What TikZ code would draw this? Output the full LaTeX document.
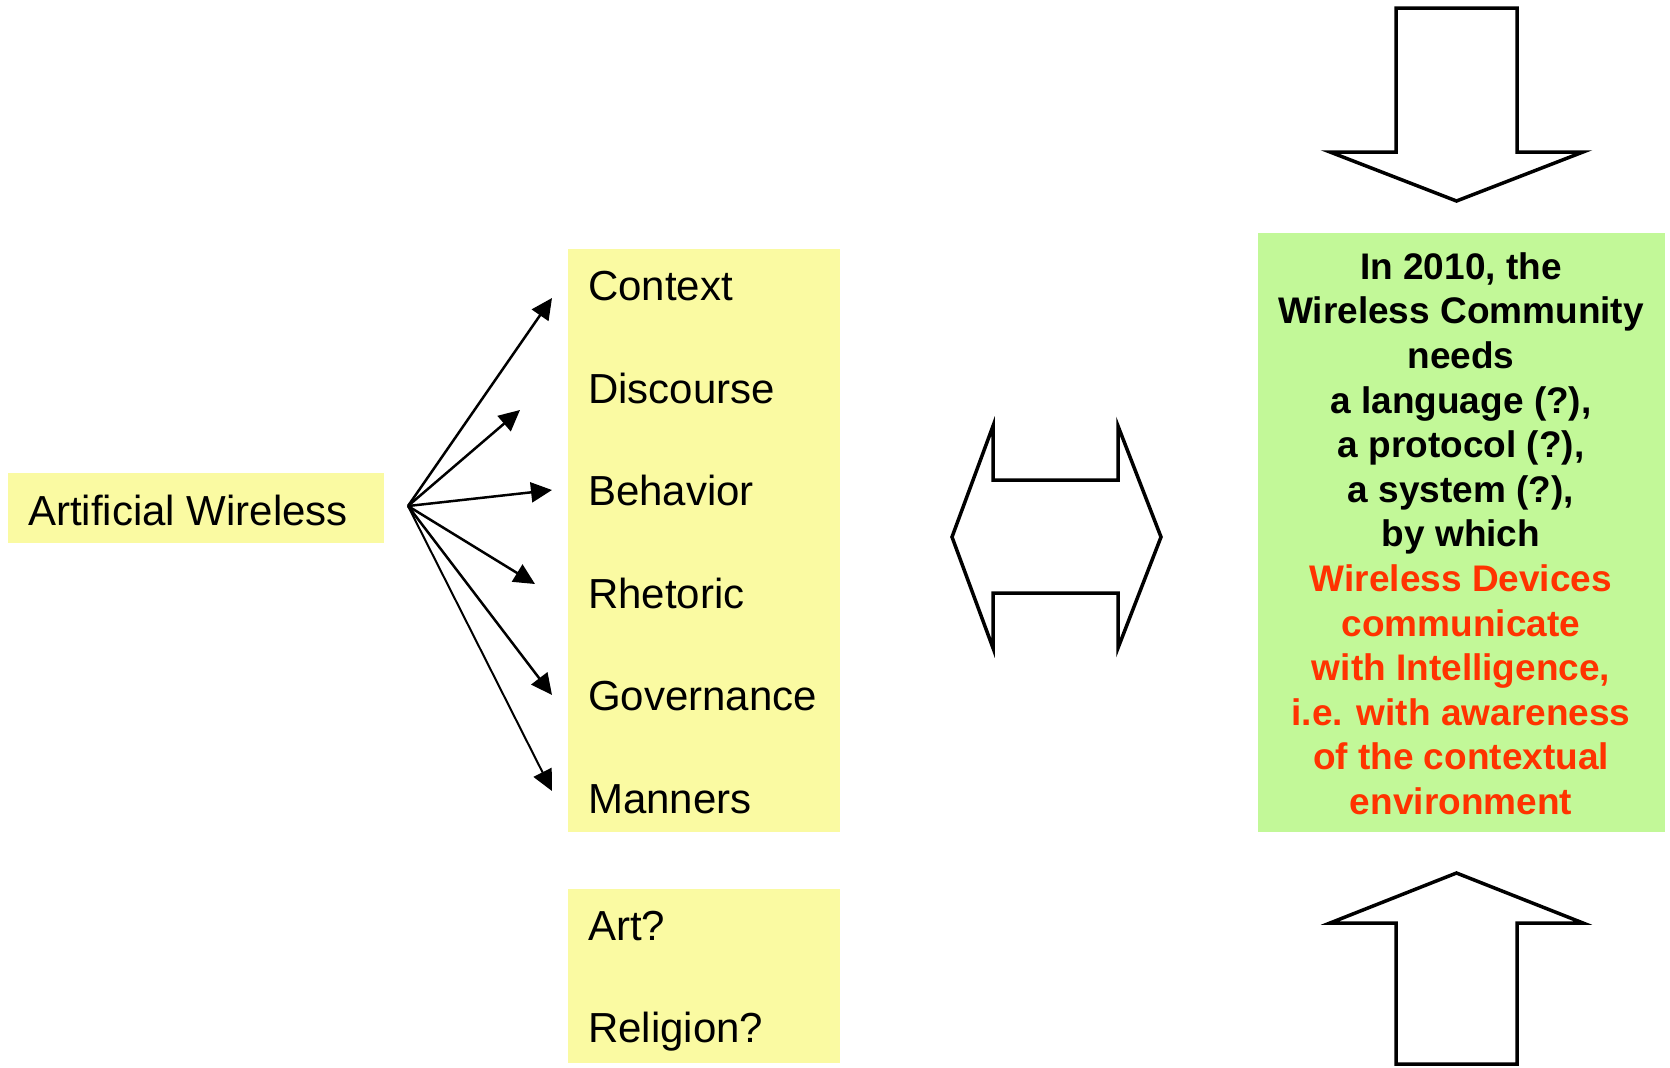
\documentclass[tikz,border=0pt]{standalone}
\usepackage{fontspec}
\setmainfont{Liberation Sans}
\usetikzlibrary{arrows.meta}
\definecolor{yel}{RGB}{250,250,162}
\definecolor{grn}{RGB}{194,248,152}
\definecolor{redtxt}{RGB}{255,51,0}
\begin{document}
\begin{tikzpicture}[x=1bp,y=-1bp,
  item/.style={anchor=base west, inner sep=0pt, font=\fontsize{42bp}{50bp}\selectfont},
  boxfill/.style={anchor=north west, inner sep=0pt, draw=none},
  fanarrow/.style={line width=2.5bp, -{Triangle[length=21bp,width=20bp]}},
  bigarrow/.style={draw=black, line width=3.5bp, fill=white, line join=miter}]
\useasboundingbox (0,0) rectangle (1670,1067);
% boxes
\node[boxfill, fill=yel, minimum width=376bp, minimum height=70bp] (awbox) at (8,473) {};
\node[boxfill, fill=yel, minimum width=272bp, minimum height=583bp] (listbox) at (568,249) {};
\node[boxfill, fill=yel, minimum width=272bp, minimum height=174bp] (artbox) at (568,889) {};
\node[boxfill, fill=grn, minimum width=407bp, minimum height=599bp] (grnbox) at (1258,233) {};
% texts
\node[item] (aw) at (28,525.7) {Artificial Wireless};
\node[item] (ctx) at (588,300.5) {Context};
\node[item] (dis) at (588,403) {Discourse};
\node[item] (beh) at (588,505.5) {Behavior};
\node[item] (rhe) at (588,608) {Rhetoric};
\node[item] (gov) at (588,710.5) {Governance};
\node[item] (man) at (588,813) {Manners};
\node[item] (art) at (588,940.7) {Art?};
\node[item] (rel) at (588,1042.7) {Religion?};
\node[anchor=north, inner sep=0pt, align=center,
      font=\fontsize{37bp}{44.6bp}\selectfont\bfseries] (need) at (1461,249)
  {\rule{0pt}{30bp}In 2010, the\\
   Wireless Community\\
   needs\\
   a language (?),\\
   a protocol (?),\\
   a system (?),\\
   by which\\
   \textcolor{redtxt}{Wireless Devices}\\
   \textcolor{redtxt}{communicate}\\
   \textcolor{redtxt}{with Intelligence,}\\
   \textcolor{redtxt}{i.e. with awareness}\\
   \textcolor{redtxt}{of the contextual}\\
   \textcolor{redtxt}{environment}};
% fan of arrows
\coordinate (hub) at (408,506);
\coordinate (tctx) at (552,298);
\coordinate (tdis) at (520,410);
\coordinate (tbeh) at (552,490);
\coordinate (trhe) at (535,584);
\coordinate (tgov) at (552,695);
\coordinate (tman) at (552,791);
\draw[fanarrow] (hub) -- (tctx);
\draw[fanarrow] (hub) -- (tdis);
\draw[fanarrow] (hub) -- (tbeh);
\draw[fanarrow] (hub) -- (trhe);
\draw[fanarrow] (hub) -- (tgov);
\draw[fanarrow, line width=2bp] (hub) -- (tman);
% big block arrows
\draw[bigarrow] (952,537) -- (993,426) -- (993,480) -- (1118,480) -- (1118,426)
  -- (1161,537) -- (1118,648) -- (1118,593) -- (993,593) -- (993,648) -- cycle;
\draw[bigarrow] (1396,8) -- (1517,8) -- (1517,152) -- (1583,152) -- (1456.5,201)
  -- (1330,152) -- (1396,152) -- cycle;
\draw[bigarrow] (1396,1064) -- (1396,923) -- (1330,923) -- (1456.5,873)
  -- (1583,923) -- (1517,923) -- (1517,1064) -- cycle;
\end{tikzpicture}
\end{document}
